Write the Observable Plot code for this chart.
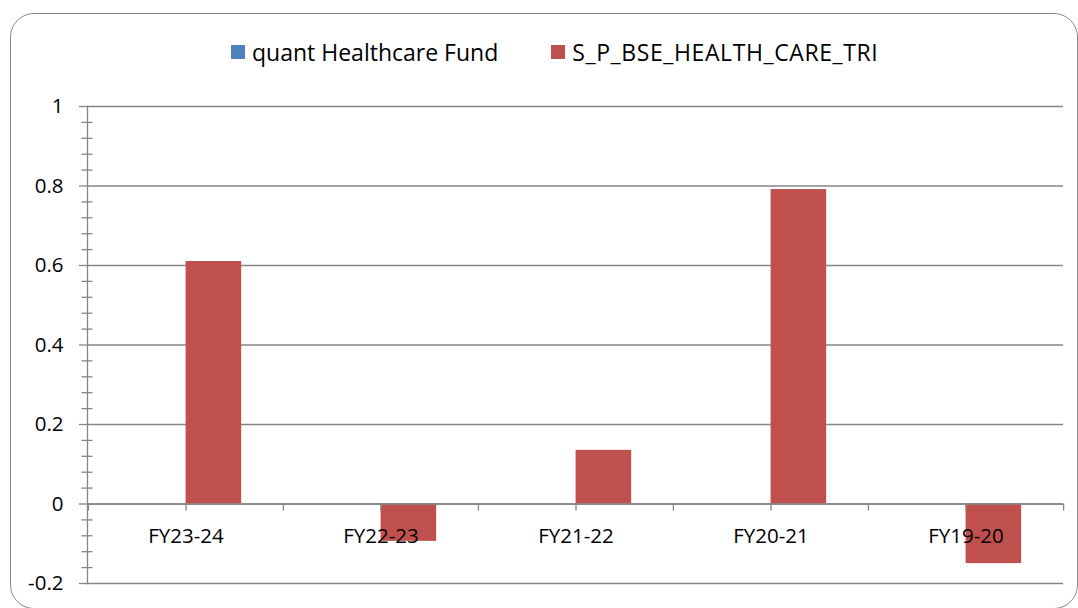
<!DOCTYPE html>
<html>
<head>
<meta charset="utf-8">
<script src="https://cdn.jsdelivr.net/npm/d3@7"></script>
<script src="https://cdn.jsdelivr.net/npm/@observablehq/plot@0.6"></script>
<style>
  html, body { margin: 0; padding: 0; background: #fff; }
  #wrap { position: relative; width: 1078px; height: 608px; overflow: hidden; background: #fff; font-family: "Open Sans", sans-serif; }
  #border { position: absolute; left: 10px; top: 13px; width: 1068px; height: 596px; border: 1.5px solid #8a8a8a; border-radius: 24px; box-sizing: border-box; }
  #legend { position: absolute; top: 36px; left: 231px; display: flex; align-items: center; gap: 53px; white-space: nowrap; font-size: 23px; color: #000; }
  .item { display: flex; align-items: center; }
  .sw { width: 14px; height: 14px; margin-right: 7px; }
  #chart { position: absolute; left: 0; top: 0; }
</style>
</head>
<body>
<div id="wrap">
  <div id="border"></div>
  <div id="legend"></div>
  <div id="chart"></div>
</div>
<script>
// ---- data ----
const categories = ["FY23-24", "FY22-23", "FY21-22", "FY20-21", "FY19-20"];
const seriesNames = ["quant Healthcare Fund", "S_P_BSE_HEALTH_CARE_TRI"];
const quantValues = [null, null, null, null, null];
const bseValues = [0.610, -0.094, 0.135, 0.791, -0.150];
const yTicks = [-0.2, 0, 0.2, 0.4, 0.6, 0.8, 1];
const seriesColors = ["#4F81BD", "#C0504D"];

// ---- layout ----
const W = 1078, H = 608, ML = 87, MR = 15, MT = 106, MB = 25;
const bw = (W - ML - MR) / categories.length;
const barW = bw / 3.5;
const gridColor = "#868686";

const minorTicks = d3.range(-5, 26).filter(i => i % 5 !== 0).map(i => i * 0.04);

const rows = categories.flatMap((c, i) => [
  {cat: c, series: seriesNames[0], value: quantValues[i]},
  {cat: c, series: seriesNames[1], value: bseValues[i]}
]);

const chart = Plot.plot({
  width: W, height: H,
  marginLeft: ML, marginRight: MR, marginTop: MT, marginBottom: MB,
  style: {fontFamily: "Open Sans, sans-serif", fontSize: "20.5px", color: "#000", background: "transparent", overflow: "visible"},
  x: {type: "band", domain: categories, padding: 0, axis: null},
  y: {domain: [-0.2, 1], label: null},
  marks: [
    Plot.gridY(yTicks, {stroke: gridColor, strokeOpacity: 1, strokeWidth: 1.3}),
    Plot.axisY(minorTicks, {tickSize: 11, dx: 5.5, tickFormat: () => "", label: null, stroke: gridColor, strokeWidth: 1.3}),
    Plot.axisY(yTicks, {tickSize: 8, tickPadding: 16, label: null, tickFormat: d => String(Math.round(d * 10) / 10), stroke: gridColor, strokeWidth: 1.3, fill: "#000", fontSize: 20.5}),
    Plot.barY(rows.filter(d => d.series === seriesNames[0]), {x: "cat", y: "value", fill: seriesColors[0], insetLeft: bw / 2 - barW, insetRight: bw / 2}),
    Plot.barY(rows.filter(d => d.series === seriesNames[1]), {x: "cat", y: "value", fill: seriesColors[1], insetLeft: bw / 2, insetRight: bw / 2 - barW}),
    Plot.frame({anchor: "left", stroke: gridColor, strokeWidth: 1.3}),
    Plot.ruleY([0], {stroke: gridColor, strokeWidth: 1.3}),
    Plot.ruleX(categories, {x: d => d, y1: () => 0, y2: () => 0, insetBottom: -7, dx: -bw / 2, stroke: gridColor, strokeWidth: 1.3}),
    Plot.ruleX(categories, {x: d => d, y1: () => 0, y2: () => 0, insetBottom: -7, stroke: gridColor, strokeWidth: 1.3}),
    Plot.ruleX([categories[categories.length - 1]], {x: d => d, y1: () => 0, y2: () => 0, insetBottom: -7, dx: bw / 2, stroke: gridColor, strokeWidth: 1.3}),
    Plot.text(categories, {x: d => d, y: () => 0, text: d => d, dy: 32, fontSize: 20.5, fill: "#000"})
  ]
});
document.getElementById("chart").appendChild(chart);

// legend
const legend = document.getElementById("legend");
seriesNames.forEach((name, i) => {
  const item = document.createElement("div");
  item.className = "item";
  const sw = document.createElement("span");
  sw.className = "sw";
  sw.style.background = seriesColors[i];
  const label = document.createElement("span");
  label.textContent = name;
  if (i === 1) label.style.letterSpacing = "0.6px";
  item.appendChild(sw);
  item.appendChild(label);
  legend.appendChild(item);
});
</script>
</body>
</html>
